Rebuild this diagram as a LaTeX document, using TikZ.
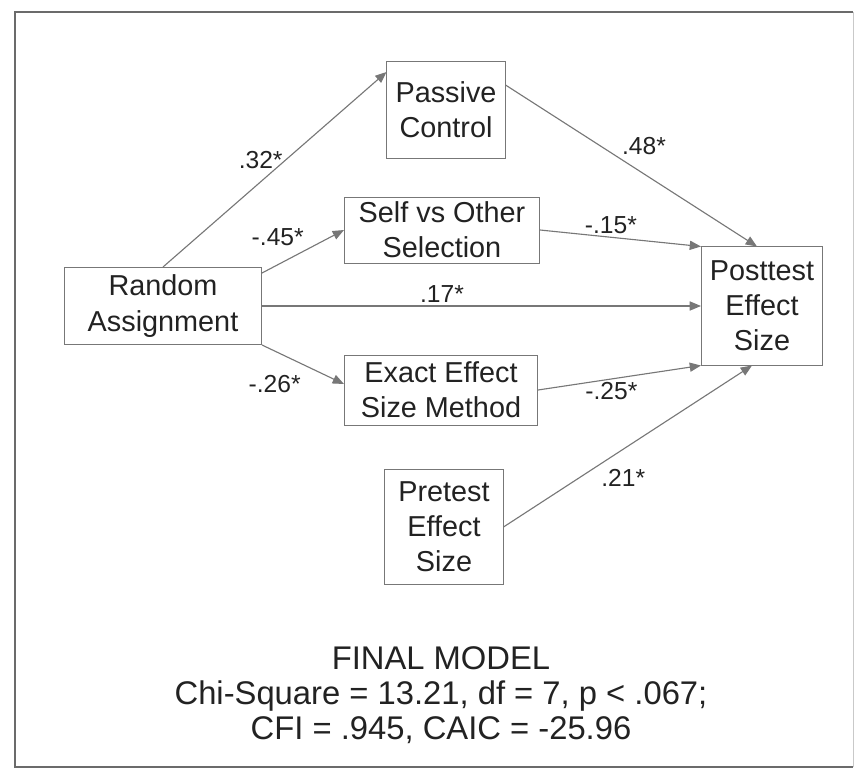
\documentclass[tikz,border=0pt]{standalone}
\usepackage{fontspec}
\setmainfont{Liberation Sans}
\usetikzlibrary{arrows.meta}
\definecolor{ink}{HTML}{222222}
\definecolor{rule}{HTML}{777777}

\begin{document}
\begin{tikzpicture}[x=0.025cm,y=-0.025cm,text=ink,
 var/.style={draw=rule,line width=.7pt,inner sep=0pt,align=center,
  font=\fontsize{20.5}{25}\selectfont},
 coef/.style={font=\fontsize{17.5}{20}\selectfont,inner sep=2pt},
 path/.style={-{Triangle[length=8pt,width=6.5pt]},draw=rule,line width=.8pt},
 fit/.style={font=\fontsize{23.3}{25}\selectfont}]
\path[use as bounding box] (0,0) rectangle (864,770);
\draw[rule!90!black,line width=1.4pt] (853,767) -- (15,767) -- (15,12) -- (853,12);
\draw[rule!40,line width=.6pt] (853,12) -- (853,767);
% variables of the path model
\node[var,minimum width=2.95cm,minimum height=2.4cm] (pass) at (446,110) {Passive\\Control};
\node[var,minimum width=4.875cm,minimum height=1.65cm] (self) at (442,230) {Self vs Other\\Selection};
\node[var,minimum width=4.925cm,minimum height=1.925cm] (rand) at (163,306) {Random\\Assignment};
\node[var,minimum width=4.825cm,minimum height=1.75cm] (exact) at (441,390) {Exact Effect\\Size Method};
\node[var,minimum width=3.025cm,minimum height=2.95cm] (post) at (762,306) {Posttest\\Effect\\Size};
\node[var,minimum width=2.95cm,minimum height=2.875cm] (pre) at (444,527) {Pretest\\Effect\\Size};
% standardized paths
\draw[path] (rand.north) -- ([yshift=.95cm]pass.west) node[coef,pos=.55,left] {.32*};
\draw[path] ([yshift=.625cm]pass.east) -- ([xshift=-.125cm]post.north) node[coef,pos=.45,above right] {.48*};
\draw[path] ([yshift=-.15cm]rand.north east) -- (self.west) node[coef,pos=.55,above left] {-.45*};
\draw[path] (self.east) -- (post.north west) node[coef,pos=.44,above] {-.15*};
\draw[path] (rand.east) -- (post.west) node[coef,pos=.41,above] {.17*};
\draw[path] (rand.south east) -- ([yshift=.15cm]exact.west) node[coef,pos=1,left=1cm] {-.26*};
\draw[path] (exact.east) -- (post.south west) node[coef,pos=.45,below] {-.25*};
\draw[path] (pre.east) -- ([xshift=-.25cm]post.south) node[coef,pos=.38,below right] {.21*};
% fit summary
\node[fit,align=center] (summary) at (441,695)
 {FINAL MODEL\\Chi-Square = 13.21, df = 7, p < .067;\\CFI = .945, CAIC = -25.96};
\end{tikzpicture}
\end{document}
